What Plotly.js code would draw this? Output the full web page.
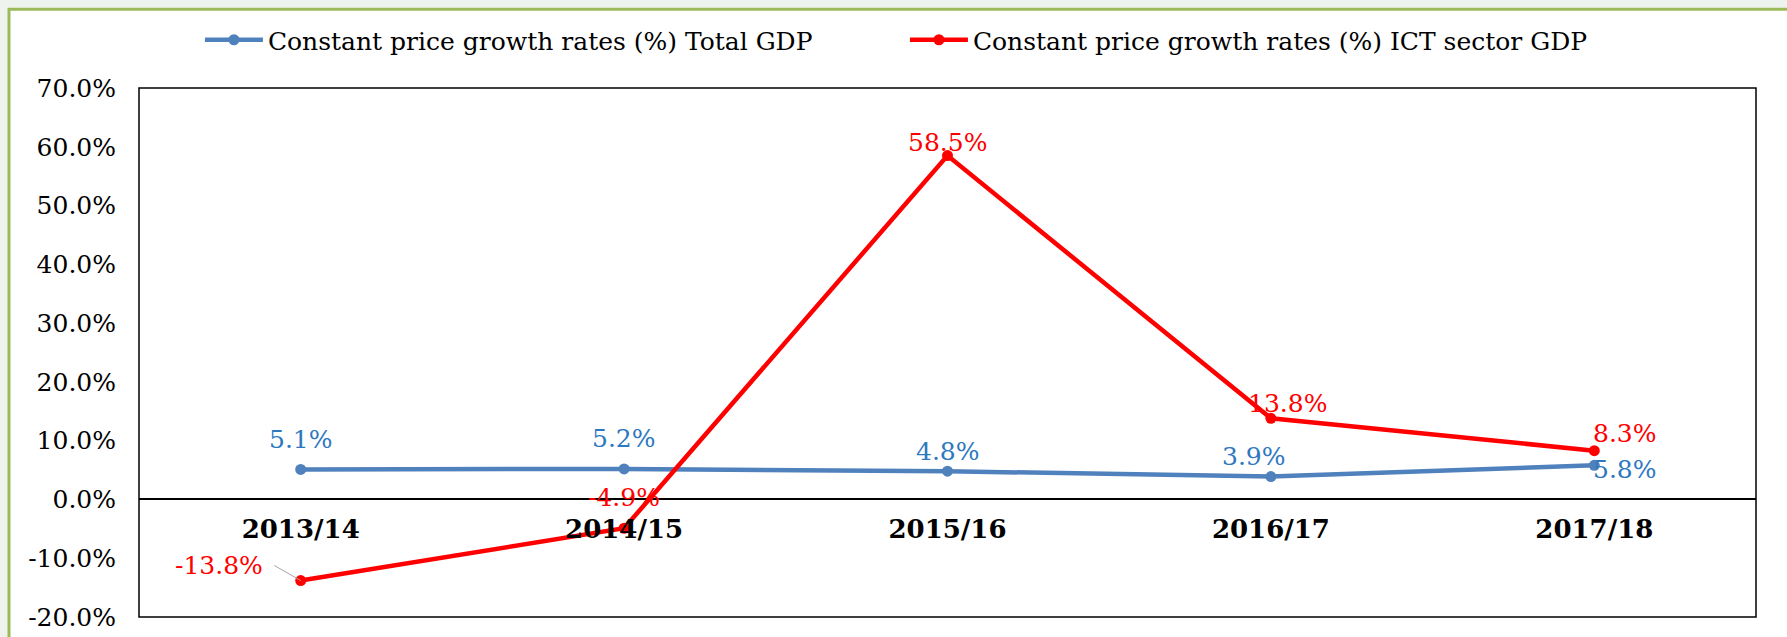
<!DOCTYPE html>
<html>
<head>
<meta charset="utf-8">
<script src="https://cdn.plot.ly/plotly-3.0.1.min.js"></script>
<style>
  html, body { margin: 0; padding: 0; background: #ffffff; }
  #chart { width: 1787px; height: 637px; }
</style>
</head>
<body>
<div id="chart"></div>
<script>
// ---- data ----
const years = ["2013/14", "2014/15", "2015/16", "2016/17", "2017/18"];
const totalGDP = [5.1, 5.2, 4.8, 3.9, 5.8];
const ictGDP = [-13.8, -4.9, 58.5, 13.8, 8.3];
const seriesNames = [
  "Constant price growth rates (%) Total GDP",
  "Constant price growth rates (%) ICT sector GDP"
];
const yTicks = [-20, -10, 0, 10, 20, 30, 40, 50, 60, 70];

// label offsets (style only, in px relative to each point)
const blueLabelShift = [[0, 30], [0, 30], [0, 20], [-17, 20], [31, -4]];
const redLabelShift = [[-82, 15], [0, 31], [0, 13], [17, 15], [31, 17]];

const FONT = "DejaVu Serif, Bookman Old Style, serif";
const BLUE = "#4F81BD";
const BLUE_TXT = "#2E78C0";
const RED = "#FF0000";

const fmt = v => v.toFixed(1) + "%";

const blueTrace = {
  x: years, y: totalGDP, name: seriesNames[0],
  type: "scatter", mode: "lines+markers",
  line: { color: BLUE, width: 4.5 },
  marker: { color: BLUE, size: 11 },
  hoverinfo: "skip"
};

const redTrace = {
  x: years, y: ictGDP, name: seriesNames[1],
  type: "scatter", mode: "lines+markers",
  line: { color: RED, width: 4.5 },
  marker: { color: RED, size: 11 },
  hoverinfo: "skip"
};

function labels(xs, ys, shifts, color) {
  return xs.map((x, i) => ({
    x: x, y: ys[i], xref: "x", yref: "y",
    text: fmt(ys[i]), showarrow: false,
    xanchor: "center", yanchor: "middle",
    xshift: shifts[i][0], yshift: shifts[i][1],
    font: { family: FONT, size: 25, color: color }
  }));
}

const annotations = [
  ...labels(years, totalGDP, blueLabelShift, BLUE_TXT),
  ...labels(years, ictGDP, redLabelShift, RED),
  // leader line for the first ICT label
  { x: years[0], y: ictGDP[0], xref: "x", yref: "y", text: "",
    showarrow: true, arrowhead: 0, arrowwidth: 1, arrowcolor: "#A6A6A6",
    ax: -28, ay: -16, standoff: 0 }
];

const layout = {
  width: 1787, height: 637,
  margin: { l: 139, r: 31, t: 88, b: 20 },
  paper_bgcolor: "#eef3ee",
  plot_bgcolor: "#ffffff",
  font: { family: FONT, size: 25, color: "#000000" },
  showlegend: true,
  legend: {
    orientation: "h",
    xref: "container", yref: "container",
    x: 0.5064, xanchor: "center",
    y: 1 - 40 / 637, yanchor: "middle",
    font: { family: FONT, size: 25, color: "#000000" },
    itemwidth: 58,
    entrywidth: 632,
    bgcolor: "rgba(0,0,0,0)"
  },
  xaxis: {
    type: "category",
    range: [-0.5, 4.5],
    anchor: "free",
    position: 20 / 90,
    showline: false,
    showgrid: false,
    zeroline: false,
    ticks: "",
    ticklabelstandoff: 12,
    tickfont: { family: FONT, size: 26, color: "#000000", weight: "bold" },
    fixedrange: true
  },
  yaxis: {
    range: [-20, 70],
    tickvals: yTicks,
    ticktext: yTicks.map(fmt),
    showgrid: false,
    zeroline: true,
    zerolinecolor: "#000000",
    zerolinewidth: 2,
    showline: false,
    ticks: "",
    ticklabelstandoff: 22,
    tickfont: { family: FONT, size: 25, color: "#000000" },
    fixedrange: true
  },
  shapes: [
    { type: "rect", xref: "paper", yref: "paper", x0: -0.0804, x1: 1.05, y0: -0.2, y1: 1.149,
      line: { color: "#9BBB59", width: 3 }, fillcolor: "#ffffff", layer: "below" },
    { type: "rect", xref: "x domain", yref: "y domain", x0: 0, x1: 1, y0: 0, y1: 1,
      line: { color: "#000000", width: 1.5 }, fillcolor: "rgba(0,0,0,0)", layer: "above" }
  ],
  annotations: annotations
};

Plotly.newPlot("chart", [blueTrace, redTrace], layout, { displayModeBar: false, staticPlot: true });
</script>
</body>
</html>
